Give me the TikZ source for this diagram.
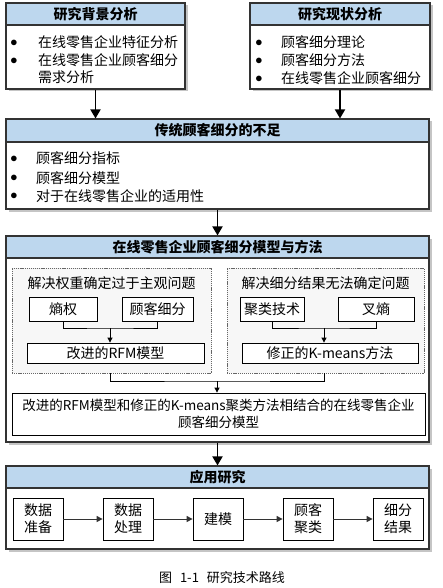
\documentclass[tikz,border=0pt]{standalone}
\usepackage{fontspec}
\setmainfont{Noto Sans CJK SC}
\usetikzlibrary{arrows.meta,shadows}
\definecolor{hdr}{HTML}{BDD7EE}
\begin{document}
\begin{tikzpicture}[x=1pt,y=-1pt,
  every node/.style={font=\fontsize{14}{17}\selectfont, inner sep=0pt},
  mainbox/.style={draw=black!80, line width=1.1pt, fill=white,
    drop shadow={shadow xshift=2.5pt, shadow yshift=-2.5pt, fill=black!45}},
  hdrbox/.style={draw=black!80, line width=1.1pt, fill=hdr, font=\fontsize{14}{17}\selectfont\bfseries},
  dashbox/.style={draw=black!60, line width=0.7pt, dash pattern=on 1.2pt off 0.9pt, fill=black!3},
  innerbox/.style={draw=black, line width=0.8pt, fill=white},
  txt/.style={anchor=base west},
  bul/.style={anchor=center},
  bigarrow/.style={line width=1.8pt, -{Triangle[width=10pt,length=9pt]}},
  smallarrow/.style={line width=0.8pt, -{Triangle[width=5pt,length=5pt]}},
  conn/.style={line width=0.8pt},
  midarrow/.style={line width=1pt, draw=black!80, -{Triangle[width=6pt,length=6pt]}}
]
\useasboundingbox (0,0) rectangle (442,588);

% Box 1
\node[mainbox, minimum width=179pt, minimum height=86pt] (b1) at (95.5,46) {};
\node[hdrbox, minimum width=179pt, minimum height=22pt, anchor=north] (b1h) at (b1.north) {研究背景分析};
\node[bul] (b1d1) at (14,43) {$\bullet$};
\node[txt] (b1t1) at (38,48) {在线零售企业特征分析};
\node[bul] (b1d2) at (14,61) {$\bullet$};
\node[txt] (b1t2) at (38,66) {在线零售企业顾客细分};
\node[txt] (b1t3) at (38,83) {需求分析};

% Box 2
\node[mainbox, minimum width=180pt, minimum height=86pt] (b2) at (340,46) {};
\node[hdrbox, minimum width=180pt, minimum height=22pt, anchor=north] (b2h) at (b2.north) {研究现状分析};
\node[bul] (b2d1) at (259,43) {$\bullet$};
\node[txt] (b2t1) at (281,48) {顾客细分理论};
\node[bul] (b2d2) at (259,61) {$\bullet$};
\node[txt] (b2t2) at (281,66) {顾客细分方法};
\node[bul] (b2d3) at (259,79) {$\bullet$};
\node[txt] (b2t3) at (281,84) {在线零售企业顾客细分};

% Box 3
\node[mainbox, minimum width=423pt, minimum height=90pt] (b3) at (217.5,164) {};
\node[hdrbox, minimum width=423pt, minimum height=23pt, anchor=north] (b3h) at (b3.north) {传统顾客细分的不足};
\node[bul] (b3d1) at (14,159) {$\bullet$};
\node[txt] (b3t1) at (36,164) {顾客细分指标};
\node[bul] (b3d2) at (14,178) {$\bullet$};
\node[txt] (b3t2) at (36,183) {顾客细分模型};
\node[bul] (b3d3) at (14,196) {$\bullet$};
\node[txt] (b3t3) at (36,201) {对于在线零售企业的适用性};

% Box 4
\node[mainbox, minimum width=423pt, minimum height=206pt] (b4) at (217.5,339) {};
\node[hdrbox, minimum width=423pt, minimum height=22pt, anchor=north] (b4h) at (b4.north) {在线零售企业顾客细分模型与方法};

\node[dashbox, minimum width=199pt, minimum height=105pt] (dL) at (111.5,320.5) {};
\node (dLt) at (111.5,283) {解决权重确定过于主观问题};
\node[innerbox, minimum width=68pt, minimum height=24pt] (e1) at (63,309) {熵权};
\node[innerbox, minimum width=71pt, minimum height=24pt] (e2) at (157.5,309) {顾客细分};
\node[innerbox, minimum width=177pt, minimum height=20pt] (rfm) at (115.5,353) {改进的RFM模型};

\node[dashbox, minimum width=197pt, minimum height=105pt] (dR) at (325.5,320.5) {};
\node (dRt) at (325.5,283) {解决细分结果无法确定问题};
\node[innerbox, minimum width=64pt, minimum height=24pt] (k1) at (272,309) {聚类技术};
\node[innerbox, minimum width=76pt, minimum height=24pt] (k2) at (376,309) {叉熵};
\node[innerbox, minimum width=176pt, minimum height=20pt] (km) at (330,353) {修正的K-means方法};

\coordinate (jL) at (110,328);
\coordinate (jR) at (324,328);
\draw[conn] (e1.south) |- (jL) -| (e2.south);
\draw[smallarrow] (jL) -- (jL |- rfm.north);
\draw[conn] (k1.south) |- (jR) -| (k2.south);
\draw[smallarrow] (jR) -- (jR |- km.north);

\node[innerbox, minimum width=413pt, minimum height=42pt, align=center,
  font=\fontsize{13.5}{17}\selectfont] (comb) at (218.5,414)
  {改进的RFM模型和修正的K-means聚类方法相结合的在线零售企业\\顾客细分模型};

\coordinate (jM) at (217,381);
\draw[conn] (jL |- dL.south) |- (jM) -| (jR |- dR.south);
\draw[smallarrow] (jM) -- (jM |- comb.north);

% Box 5
\node[mainbox, minimum width=423pt, minimum height=83pt] (b5) at (217.5,507.5) {};
\node[hdrbox, minimum width=423pt, minimum height=22pt, anchor=north] (b5h) at (b5.north) {应用研究};
\node[innerbox, minimum width=50pt, minimum height=42pt, align=center] (p1) at (38,519) {数据\\准备};
\node[innerbox, minimum width=50pt, minimum height=42pt, align=center] (p2) at (128,519) {数据\\处理};
\node[innerbox, minimum width=50pt, minimum height=42pt, align=center] (p3) at (218,519) {建模};
\node[innerbox, minimum width=50pt, minimum height=42pt, align=center] (p4) at (308,519) {顾客\\聚类};
\node[innerbox, minimum width=50pt, minimum height=42pt, align=center] (p5) at (398,519) {细分\\结果};
\draw[midarrow] (p1) -- (p2);
\draw[midarrow] (p2) -- (p3);
\draw[midarrow] (p3) -- (p4);
\draw[midarrow] (p4) -- (p5);

% Main arrows
\draw[bigarrow] (b1.south) -- (b1.south |- b3.north);
\draw[bigarrow] (b2.south) -- (b2.south |- b3.north);
\draw[bigarrow] (b3.south) -- (b3.south |- b4.north);
\draw[bigarrow] (b4.south) -- (b4.south |- b5.north);

% Caption
\node[font=\fontsize{13}{15}\selectfont] (cap) at (222,578) {图\hspace{0.6em}1-1\hspace{0.6em}研究技术路线};
\end{tikzpicture}
\end{document}
